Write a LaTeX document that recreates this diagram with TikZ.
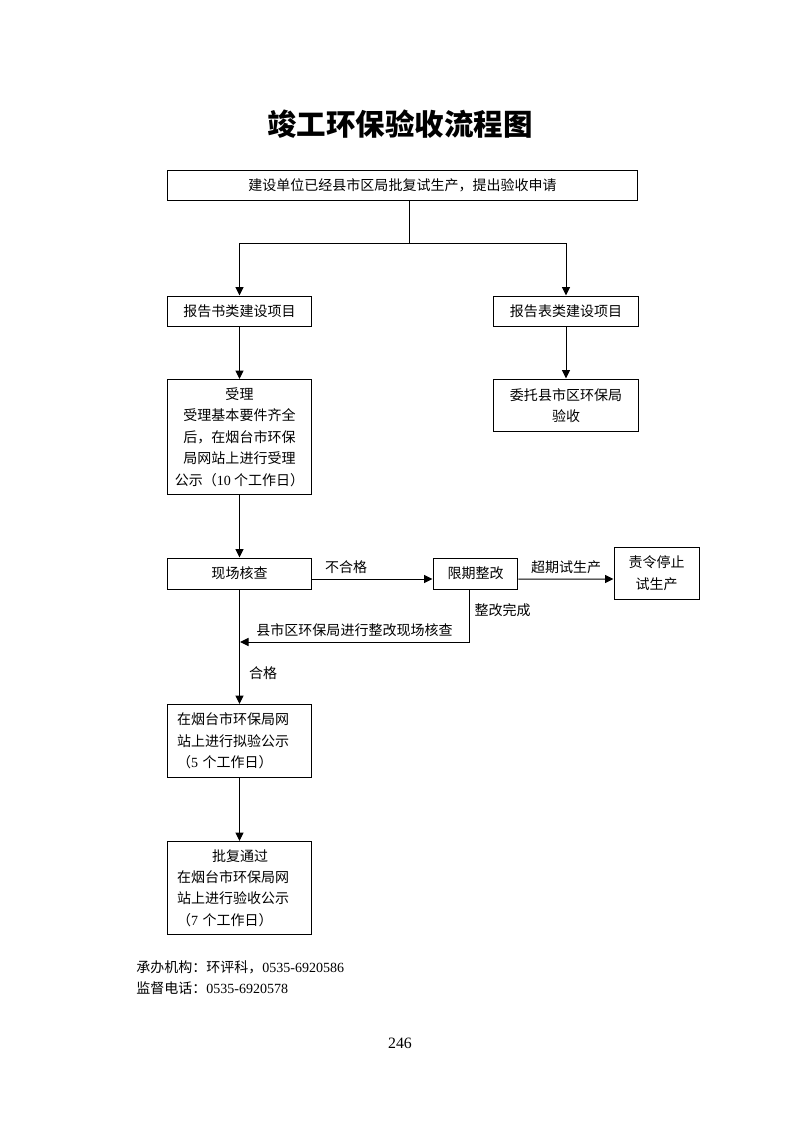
\documentclass[tikz,border=0pt]{standalone}
\usepackage{fontspec}
\setmainfont{Noto Sans CJK SC}
\newfontfamily\numfont{Liberation Serif}
\usetikzlibrary{arrows.meta}

\tikzset{
  box/.style={draw, line width=0.02cm, minimum width=2.9cm, minimum height=0.62cm,
    inner sep=0.1cm, align=center, font={\fontsize{7.97pt}{12.2pt}\selectfont}},
  leftbox/.style={box, align=left, text width=2.5cm, inner xsep=0.2cm},
  arr/.style={line width=0.02cm, -{Triangle[length=0.17cm,width=0.16cm]}},
  lbl/.style={font={\fontsize{7.97pt}{12.2pt}\selectfont}, inner sep=0.1cm}
}

\begin{document}
\begin{tikzpicture}[x=0.02cm, y=-0.02cm]
  \useasboundingbox (0,0) rectangle (800,1132);

  % Title
  \node (title) at (400,124.5) {\fontsize{16.8pt}{20pt}\selectfont\bfseries 竣工环保验收流程图};

  % Drawing boxes
  \node[box, minimum width=9.42cm] (apply) at (402.5,185.5) {建设单位已经县市区局批复试生产，提出验收申请};
  \node[box] (reportbook) at (239.5,311.5) {报告书类建设项目};
  \node[box] (reportform) at (566,311.5) {报告表类建设项目};
  \node[box, minimum height=2.3cm] (accept) at (239.5,437)
    {受理\\受理基本要件齐全\\后，在烟台市环保\\局网站上进行受理\\公示（{\numfont 10} 个工作日）};
  \node[box, minimum height=1.06cm] (entrust) at (566,405.5) {委托县市区环保局\\验收};
  \node[box] (inspect) at (239.5,573.5) {现场核查};
  \node[box, minimum width=1.7cm] (rectify) at (475.5,573.5) {限期整改};
  \node[box, minimum width=1.7cm, minimum height=1.04cm] (halt) at (656.5,573) {责令停止\\试生产};
  \node[leftbox, minimum height=1.46cm] (prenotice) at (239.5,741)
    {在烟台市环保局网\\站上进行拟验公示\\（{\numfont 5} 个工作日）};
  \node[leftbox, minimum height=1.86cm] (approve) at (239.5,888)
    {\hspace*{2.5em}批复通过\\在烟台市环保局网\\站上进行验收公示\\（{\numfont 7} 个工作日）};

  % Drawing connectors
  \coordinate (split) at (409,243);
  \coordinate (back) at (240,642);
  \draw[line width=0.02cm] (apply.south -| split) -- (split);
  \draw[arr] (split) -| (reportbook.north);
  \draw[arr] (split) -| (reportform.north);
  \draw[arr] (reportbook) -- (accept);
  \draw[arr] (reportform) -- (entrust);
  \draw[arr] (accept) -- (inspect);
  \draw[arr] ([yshift=-0.11cm]inspect.east) -- node[lbl, above, pos=0.28] {不合格} ([yshift=-0.11cm]rectify.west);
  \draw[arr] ([yshift=-0.11cm]rectify.east) -- node[lbl, above] {超期试生产} ([yshift=-0.12cm]halt.west);
  \draw[arr] ([xshift=-0.13cm]rectify.south) |- node[lbl, right, pos=0.2] {整改完成}
    node[lbl, above, pos=0.75] {县市区环保局进行整改现场核查} (back);
  \draw[arr] (inspect) -- node[lbl, right, pos=0.73, xshift=0.08cm] {合格} (prenotice);
  \draw[arr] (prenotice) -- (approve);

  % Footer
  \node[lbl, anchor=west, inner sep=0] (contact) at (136,967) {承办机构：环评科，{\numfont 0535-6920586}};
  \node[lbl, anchor=west, inner sep=0] (phone) at (136,988) {监督电话：{\numfont 0535-6920578}};
  \node[inner sep=0] (pageno) at (400,1043) {\fontsize{9pt}{11pt}\selectfont\numfont 246};
\end{tikzpicture}
\end{document}
